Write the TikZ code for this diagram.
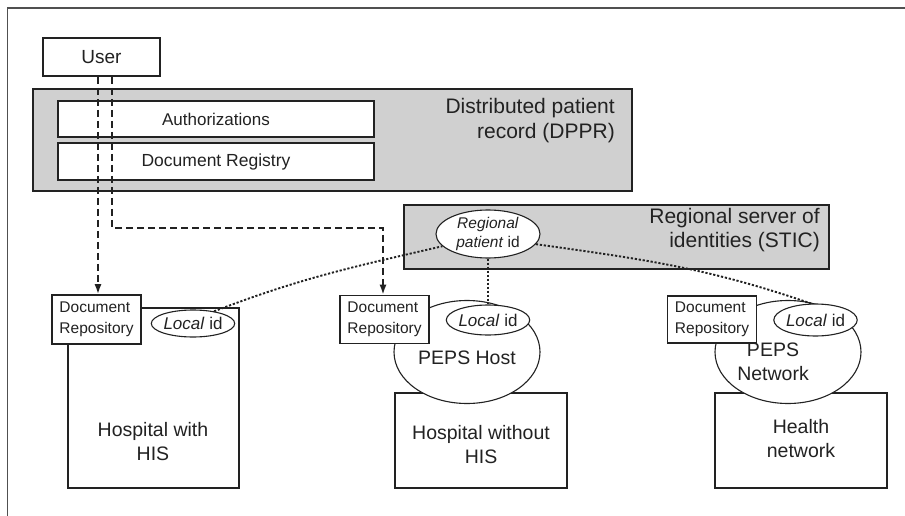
\documentclass[tikz,border=0pt]{standalone}
\usepackage{fontspec}
\setmainfont{Liberation Sans}
\usetikzlibrary{shapes.geometric,arrows.meta}
\definecolor{ink}{HTML}{222222}
\definecolor{panel}{HTML}{D0D0D0}
\definecolor{framecol}{HTML}{505050}
\newcommand\setfs[2]{\fontsize{#1}{#2}\selectfont}
\begin{document}
\begin{tikzpicture}[x=1pt,y=-1pt,
  box/.style={rectangle, draw=ink, line width=1.6pt, fill=white, inner sep=0pt, text=ink},
  panelbox/.style={rectangle, draw=ink, line width=2pt, fill=panel, inner sep=0pt},
  oval/.style={ellipse, draw=ink, line width=1.1pt, fill=white, inner sep=0pt, text=ink},
  lbl/.style={inner sep=0pt, text=ink, align=center},
  dasharrow/.style={draw=ink, line width=1.8pt, dash pattern=on 7pt off 4pt, -{Latex[length=10pt,width=7pt]}},
  dotline/.style={draw=ink, line width=1.9pt, dash pattern=on 2.2pt off 1.8pt}
]
\useasboundingbox (0,0) rectangle (905,516);
\fill[white] (0,0) rectangle (905,516);
% outer frame (only top and left visible)
\draw[framecol, line width=1.8pt] (7.5,516) -- (7.5,8) -- (905,8);

% DPPR panel
\node[panelbox, minimum width=599pt, minimum height=102pt] (dppr) at (332.5,140) {};
\node[box, minimum width=316pt, minimum height=36pt, font=\setfs{17}{20}] (auth) at (216,119) {Authorizations};
\node[box, minimum width=316pt, minimum height=37pt, font=\setfs{17.5}{20}] (reg) at (216,161.5) {Document Registry};
\node[lbl, anchor=east, align=right, font=\setfs{21}{25}] (dpprlbl) at (615,121) {Distributed patient\\record (DPPR)};

% STIC panel
\node[panelbox, minimum width=425pt, minimum height=64pt] (stic) at (616.5,237) {};
\node[lbl, anchor=east, align=right, font=\setfs{21}{24}] (sticlbl) at (820,230) {Regional server of\\identities (STIC)};
\node[oval, minimum width=104pt, minimum height=38pt, font=\setfs{15.5}{19.5}, align=center] (rpid) at (488,234) {\textit{Regional}\\\textit{patient} id};

% User
\node[box, minimum width=117pt, minimum height=38pt, font=\setfs{19}{22}] (user) at (101.5,57) {User};

% Hospital with HIS
\node[rectangle, draw=ink, line width=2.8pt, fill=white, minimum width=171pt, minimum height=180pt] (hosp1) at (153.5,398) {};
\node[lbl, font=\setfs{19.5}{24}] (hosp1lbl) at (153,442) {Hospital with\\HIS};
\node[box, minimum width=89pt, minimum height=49pt, font=\setfs{15.5}{20.5}, align=left] (dr1) at (96.5,319.5) {Document\\Repository};
\node[oval, minimum width=82pt, minimum height=27pt, font=\setfs{17}{19}] (lid1) at (193,323.5) {\textit{Local} id};

% Hospital without HIS
\node[box, line width=1.8pt, minimum width=172pt, minimum height=95pt] (hosp2) at (481,440.5) {};
\node[lbl, font=\setfs{19.5}{24}] (hosp2lbl) at (481,445) {Hospital without\\HIS};
\node[oval, minimum width=146pt, minimum height=103pt] (peps1) at (467,352) {};
\node[lbl, font=\setfs{19.5}{24}] (peps1lbl) at (467,358) {PEPS Host};
\node[box, minimum width=89pt, minimum height=48pt, font=\setfs{15.5}{20.5}, align=left] (dr2) at (384.5,319.5) {Document\\Repository};
\node[oval, minimum width=82pt, minimum height=30pt, font=\setfs{17}{19}] (lid2) at (488,320) {\textit{Local} id};

% Health network
\node[box, line width=1.8pt, minimum width=172pt, minimum height=95pt] (hosp3) at (801,440.5) {};
\node[lbl, font=\setfs{19.5}{24}] (hosp3lbl) at (801,439) {Health\\network};
\node[oval, minimum width=146pt, minimum height=103pt] (peps2) at (788,352) {};
\node[lbl, font=\setfs{19.5}{24}] (peps2lbl) at (773,362) {PEPS\\Network};
\node[box, minimum width=89pt, minimum height=47pt, font=\setfs{15.5}{20.5}, align=left] (dr3) at (712,319.5) {Document\\Repository};
\node[oval, minimum width=83pt, minimum height=32pt, font=\setfs{17}{19}] (lid3) at (815.5,320) {\textit{Local} id};

% dashed access arrows
\draw[dasharrow] ([xshift=-3.5pt]user.south) -- ([xshift=-3.5pt]user.south |- dr1.north);
\draw[dasharrow] ([xshift=10.5pt]user.south) -- ++(0,151) -| ([xshift=-1.5pt]dr2.north);

% dotted identity links
\draw[dotline] (rpid.south) -- (lid2.north);
\draw[dotline] (lid1.30) to[out=21,in=193] (rpid.195);
\draw[dotline] (rpid.-12) to[out=-8,in=161] (lid3.105);
\end{tikzpicture}
\end{document}
